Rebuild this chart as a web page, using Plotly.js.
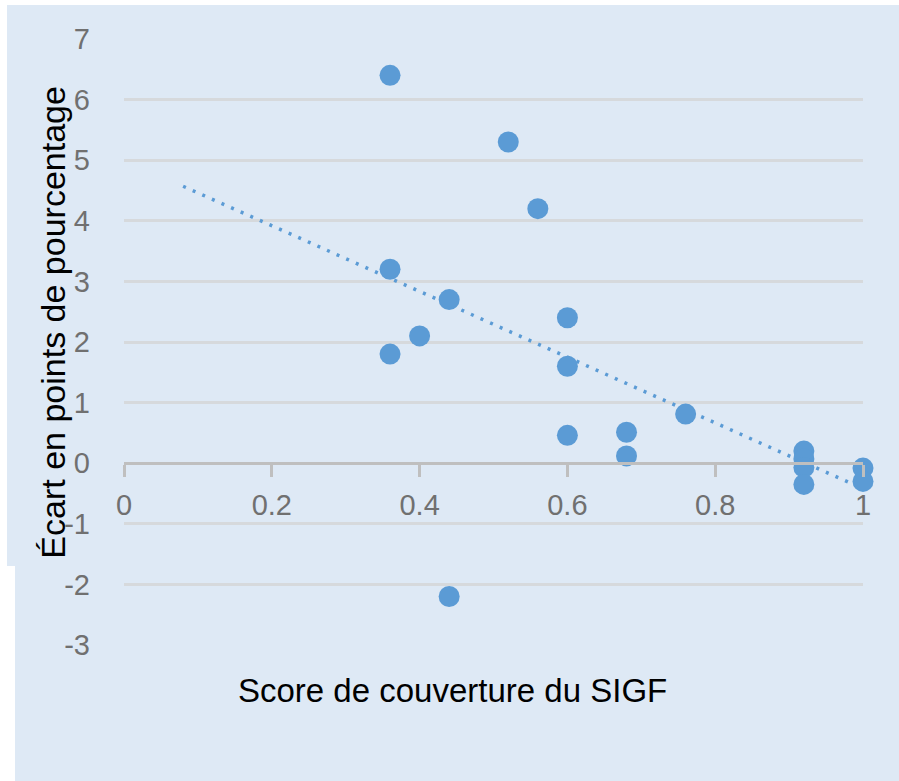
<!DOCTYPE html>
<html>
<head>
<meta charset="utf-8">
<script src="https://cdn.plot.ly/plotly-3.0.1.min.js"></script>
<style>
  html, body { margin: 0; padding: 0; background: #ffffff; width: 899px; height: 781px; overflow: hidden; }
  #bg { position: absolute; left: 7px; top: 5px; width: 892px; height: 776px; background: #dee9f5; }
  #notch { position: absolute; left: 0; top: 566px; width: 15px; height: 215px; background: #ffffff; }
  #chart { position: absolute; left: 0; top: 0; width: 899px; height: 781px; }
</style>
</head>
<body>
<div id="bg"></div>
<div id="notch"></div>
<div id="chart"></div>
<script>
// Data
const coverageScore = [0.36, 0.52, 0.56, 0.36, 0.44, 0.40, 0.36, 0.60, 0.60, 0.60, 0.68, 0.68, 0.76, 0.92, 0.92, 0.92, 0.92, 1.00, 1.00, 0.44];
const gapPoints     = [6.40, 5.30, 4.20, 3.20, 2.70, 2.10, 1.80, 2.40, 1.60, 0.46, 0.51, 0.12, 0.81, 0.20, 0.07, -0.07, -0.35, -0.08, -0.30, -2.20];
const trendX = [0.08, 1.00];
const trendY = [4.57, -0.42];
const xTickVals = [0, 0.2, 0.4, 0.6, 0.8, 1];
const xTickText = ['0', '0.2', '0.4', '0.6', '0.8', '1'];
const yTickVals = [-3, -2, -1, 0, 1, 2, 3, 4, 5, 6, 7];
const yTickText = ['-3', '-2', '-1', '0', '1', '2', '3', '4', '5', '6', '7'];
const xTitle = 'Score de couverture du SIGF';
const yTitle = 'Écart en points de pourcentage';

const yRange = [-3, 7];
const pointColor = '#5b9bd5';

const traces = [
  {
    x: trendX, y: trendY, type: 'scatter', mode: 'lines',
    line: { color: pointColor, width: 3.5, dash: '3px,7.5px' },
    hoverinfo: 'skip', showlegend: false, cliponaxis: false
  },
  {
    x: coverageScore, y: gapPoints, type: 'scatter', mode: 'markers',
    marker: { color: pointColor, size: 21, line: { width: 0 } },
    showlegend: false, cliponaxis: false
  }
];

const tickFont = { family: 'Liberation Sans, Arial, sans-serif', size: 29, color: '#707070' };
const titleFont = { family: 'Liberation Sans, Arial, sans-serif', size: 33, color: '#000000' };

const layout = {
  width: 899, height: 781,
  paper_bgcolor: 'rgba(0,0,0,0)',
  plot_bgcolor: 'rgba(0,0,0,0)',
  margin: { l: 124, r: 36, t: 39, b: 136, pad: 0 },
  showlegend: false,
  xaxis: {
    range: [0, 1], autorange: false,
    tickvals: xTickVals, ticktext: xTickText,
    showgrid: false, zeroline: false,
    showline: true, linecolor: '#bfbfbf', linewidth: 3,
    ticks: 'outside', ticklen: 12, tickwidth: 3, tickcolor: '#bfbfbf',
    tickfont: tickFont, ticklabelstandoff: 3,
    anchor: 'free',
    position: (0 - yRange[0]) / (yRange[1] - yRange[0])
  },
  yaxis: {
    range: yRange, autorange: false,
    tickvals: yTickVals, ticktext: yTickText,
    showgrid: true, gridcolor: '#d6d9dc', gridwidth: 3,
    zeroline: false, showline: false, ticks: '',
    tickfont: tickFont, ticklabelstandoff: 33
  },
  annotations: [
    {
      text: xTitle, xref: 'paper', yref: 'paper',
      x: 0.445, y: -0.075, xanchor: 'center', yanchor: 'middle',
      showarrow: false, font: titleFont
    },
    {
      text: yTitle, xref: 'paper', yref: 'paper',
      x: -0.096, y: 0.532, xanchor: 'center', yanchor: 'middle',
      textangle: -90, showarrow: false, font: Object.assign({}, titleFont, { size: 34 })
    }
  ]
};

Plotly.newPlot('chart', traces, layout, { displayModeBar: false, staticPlot: true });
</script>
</body>
</html>
